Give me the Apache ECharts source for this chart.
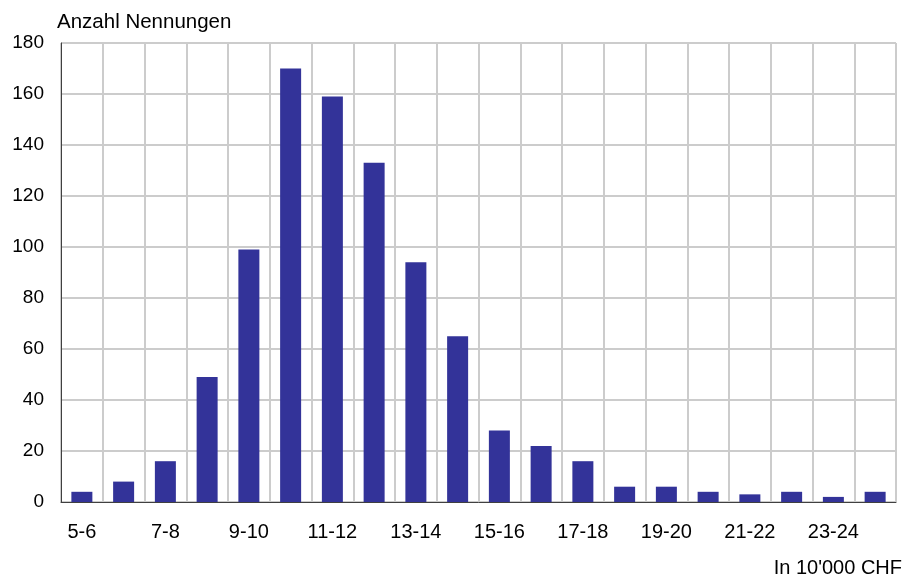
<!DOCTYPE html>
<html>
<head>
<meta charset="utf-8">
<script src="https://cdn.jsdelivr.net/npm/echarts@6/dist/echarts.min.js"></script>
<style>
  html, body { margin: 0; padding: 0; background: #fff; }
  #chart { width: 907px; height: 579px; }
</style>
</head>
<body>
<div id="chart"></div>
<script>
// Einkommensklassen (in 10'000 CHF)
var categories = ["5-6", "6-7", "7-8", "8-9", "9-10", "10-11", "11-12", "12-13", "13-14", "14-15",
  "15-16", "16-17", "17-18", "18-19", "19-20", "20-21", "21-22", "22-23", "23-24", "24-25"];
// Anzahl Nennungen
var counts = [4, 8, 16, 49, 99, 170, 159, 133, 94, 65, 28, 22, 16, 6, 6, 4, 3, 4, 2, 4];
var yMax = 180;
var yStep = 20;

var chart = echarts.init(document.getElementById("chart"));
var font = "Liberation Sans, Arial, sans-serif";

chart.setOption({
  backgroundColor: "#fff",
  animation: false,
  grid: {
    left: 61,
    right: 11,
    top: 43,
    bottom: 77,
    show: true,
    borderColor: "#404040",
    borderWidth: 1
  },
  graphic: [
    {
      type: "text",
      left: 57,
      top: 12,
      style: { text: "Anzahl Nennungen", fill: "#000", font: "20.5px " + font }
    },
    {
      type: "text",
      right: 5,
      top: 558,
      style: { text: "In 10'000 CHF", fill: "#000", font: "20px " + font }
    }
  ],
  xAxis: {
    type: "category",
    data: categories,
    boundaryGap: true,
    axisLine: { show: true, lineStyle: { color: "#404040", width: 1 } },
    axisTick: { show: false },
    axisLabel: {
      interval: 1,
      margin: 20,
      color: "#000",
      fontSize: 20,
      fontFamily: font
    },
    splitLine: {
      show: true,
      interval: 0,
      lineStyle: { color: "#cccccc", width: 2 }
    }
  },
  yAxis: {
    type: "value",
    min: 0,
    max: yMax,
    interval: yStep,
    axisLine: { show: true, lineStyle: { color: "#404040", width: 1 } },
    axisTick: { show: false },
    axisLabel: {
      margin: 17,
      color: "#000",
      fontSize: 19,
      fontFamily: font
    },
    splitLine: {
      show: true,
      lineStyle: { color: "#cccccc", width: 2 }
    }
  },
  series: [{
    type: "bar",
    data: counts,
    barWidth: 21,
    itemStyle: { color: "#333399" }
  }]
});
</script>
</body>
</html>
